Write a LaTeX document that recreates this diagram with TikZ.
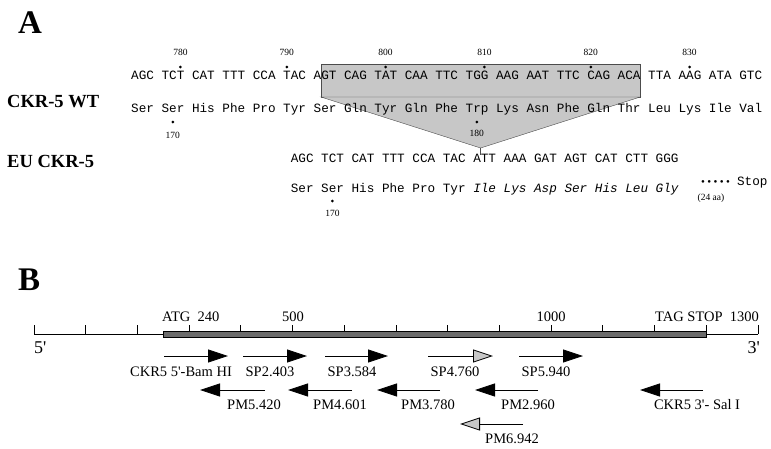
\documentclass[tikz,border=0pt]{standalone}
\usepackage{fontspec}
\setmainfont{Liberation Serif}
\setmonofont{Liberation Mono}
\usetikzlibrary{arrows.meta,positioning}
\definecolor{delshade}{gray}{0.78}
\definecolor{orfgray}{gray}{0.42}

\tikzset{
  seq/.style={anchor=base west, inner sep=0pt, font=\fontsize{12.67}{14}\selectfont\ttfamily},
  posnum/.style={inner sep=0pt, font=\fontsize{9.5}{11}\selectfont},
  panel/.style={anchor=base west, inner sep=0pt, font=\fontsize{33}{36}\selectfont\bfseries},
  rowlab/.style={anchor=west, inner sep=0pt, font=\fontsize{18.5}{20}\selectfont\bfseries},
  primer/.style={line width=0.8pt, -{Triangle[length=20pt,width=13pt]}},
  primergray/.style={line width=0.8pt, -{Triangle[length=20pt,width=13pt,fill=delshade]}},
  plabel/.style={inner sep=0pt, font=\fontsize{14.5}{16}\selectfont},
  axlab/.style={anchor=base, inner sep=0pt, font=\fontsize{14.5}{16}\selectfont},
  endlab/.style={inner sep=0pt, font=\fontsize{18}{20}\selectfont},
}

\begin{document}
\begin{tikzpicture}[x=1pt,y=-1pt]
  \useasboundingbox (0,0) rectangle (771,448);

  % ---- panel A ----
  \node[panel] (pA) at (18,33) {A};

  % deleted 32 bp
  \fill[delshade, draw=black!70, line width=0.4pt] (321,64) rectangle (640.2,97);
  \coordinate (apex) at (480.6,148);
  \fill[delshade, draw=black!70, line width=0.4pt] (321,97) -- (640.2,97) -- (apex) -- cycle;
  \coordinate (join) at (480.6,155);
  \draw[black!70, line width=0.4pt] (apex) -- (join);

  \node[rowlab] (wtlab) at (7,102) {CKR-5 WT};
  \node[rowlab] (eulab) at (7,161) {EU CKR-5};

  \node[seq] (wtdna) at (131,79) {AGC TCT CAT TTT CCA TAC AGT CAG TAT CAA TTC TGG AAG AAT TTC CAG ACA TTA AAG ATA GTC};
  \node[seq] (wtprot) at (131,112) {Ser Ser His Phe Pro Tyr Ser Gln Tyr Gln Phe Trp Lys Asn Phe Gln Thr Leu Lys Ile Val};

  % nucleotide positions
  \foreach \c/\n in {6/780,20/790,33/800,46/810,60/820,73/830} {
    \fill (131+\c*7.6+3.8,67) circle (1.5);
    \node[posnum] (nt\n) at (131+\c*7.6+3.8,52) {\n};
  }
  % codon positions
  \fill (131+5*7.6+3.8,122) circle (1.5);
  \node[posnum] (aa170) at (131+5*7.6+3.8,135) {170};
  \fill (131+45*7.6+3.8,122) circle (1.5);
  \node[posnum] (aa180) at (131+45*7.6+3.8,133) {180};

  \node[seq] (eudna) at (290.6,162) {AGC TCT CAT TTT CCA TAC ATT AAA GAT AGT CAT CTT GGG};
  \node[seq] (euprot) at (290.6,192) {Ser Ser His Phe Pro Tyr \textit{Ile Lys Asp Ser His Leu Gly}};
  \fill (290.6+5*7.6+3.8,201) circle (1.5);
  \node[posnum] (euaa170) at (290.6+5*7.6+3.8,213) {170};

  \node[seq] (stop) at (701,185) {{\rmfamily\fontsize{11}{12}\selectfont •\hspace{2.4pt}•\hspace{2.4pt}•\hspace{2.4pt}•\hspace{2.4pt}•}\hspace{7pt}Stop};
  \node[posnum] (aa24) at (711,198) {(24 aa)};

  % ---- panel B ----
  \node[panel] (pB) at (18,290) {B};

  \draw[line width=0.8pt] (34,334) -- (758,334);
  \foreach \k in {0,...,14} {
    \draw[line width=0.8pt] (34+\k*51.71,334) -- (34+\k*51.71,325);
  }
  \fill[orfgray, draw=black, line width=0.5pt] (163,331) rectangle (706,337);

  \node[axlab, anchor=base west] (atg) at (162,321) {ATG\ \ 240};
  \node[axlab] (p500) at (293,321) {500};
  \node[axlab] (p1000) at (551,321) {1000};
  \node[axlab, anchor=base west] (tag) at (655,321) {TAG STOP\ \ 1300};
  \node[endlab, anchor=base west] (five) at (34,353) {5\textquotesingle};
  \node[endlab, anchor=base east] (three) at (760,353) {3\textquotesingle};

  % sense primers
  \coordinate (bam-s) at (164,356);  \coordinate (bam-e) at (228,356);
  \coordinate (sp2-s) at (243,356);  \coordinate (sp2-e) at (307,356);
  \coordinate (sp3-s) at (325,356);  \coordinate (sp3-e) at (388,356);
  \coordinate (sp4-s) at (428,356);  \coordinate (sp4-e) at (493,356);
  \coordinate (sp5-s) at (519,356);  \coordinate (sp5-e) at (583,356);
  \draw[primer] (bam-s) -- (bam-e);
  \draw[primer] (sp2-s) -- (sp2-e);
  \draw[primer] (sp3-s) -- (sp3-e);
  \draw[primergray] (sp4-s) -- (sp4-e);
  \draw[primer] (sp5-s) -- (sp5-e);
  \node[plabel] (bam) at (181,372) {CKR5 5\textquotesingle-Bam HI};
  \node[plabel] (sp2) at (270,372) {SP2.403};
  \node[plabel] (sp3) at (352,372) {SP3.584};
  \node[plabel] (sp4) at (455,372) {SP4.760};
  \node[plabel] (sp5) at (546,372) {SP5.940};

  % antisense primers
  \coordinate (pm5-s) at (265,390);  \coordinate (pm5-e) at (200,390);
  \coordinate (pm4-s) at (352,390);  \coordinate (pm4-e) at (288,390);
  \coordinate (pm3-s) at (440,390);  \coordinate (pm3-e) at (377,390);
  \coordinate (pm2-s) at (538,390);  \coordinate (pm2-e) at (475,390);
  \coordinate (sal-s) at (703,390);  \coordinate (sal-e) at (640,390);
  \coordinate (pm6-s) at (523,424);  \coordinate (pm6-e) at (460,424);
  \draw[primer] (pm5-s) -- (pm5-e);
  \draw[primer] (pm4-s) -- (pm4-e);
  \draw[primer] (pm3-s) -- (pm3-e);
  \draw[primer] (pm2-s) -- (pm2-e);
  \draw[primer] (sal-s) -- (sal-e);
  \draw[primergray] (pm6-s) -- (pm6-e);
  \node[plabel] (pm5) at (254,405) {PM5.420};
  \node[plabel] (pm4) at (340,405) {PM4.601};
  \node[plabel] (pm3) at (428,405) {PM3.780};
  \node[plabel] (pm2) at (528,405) {PM2.960};
  \node[plabel] (sal) at (697,405) {CKR5 3\textquotesingle- Sal I};
  \node[plabel] (pm6) at (512,439) {PM6.942};
\end{tikzpicture}
\end{document}
